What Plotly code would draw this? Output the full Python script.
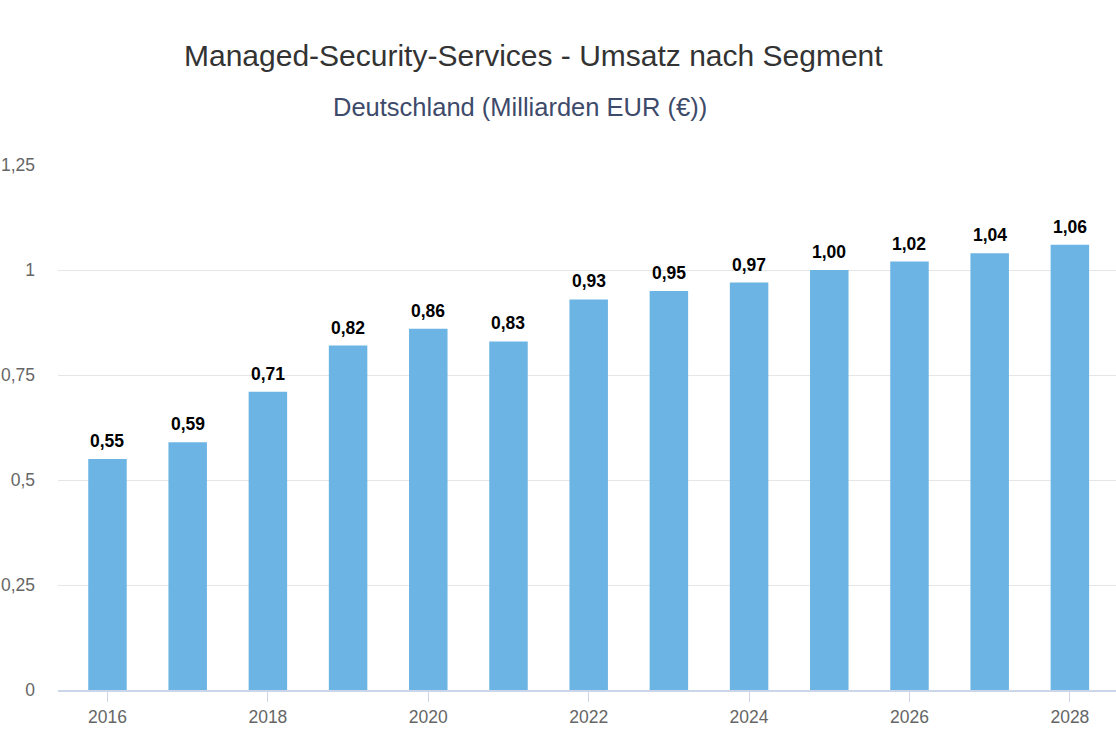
import plotly.graph_objects as go

years = [2016, 2017, 2018, 2019, 2020, 2021, 2022, 2023, 2024, 2025, 2026, 2027, 2028]
revenue = [0.55, 0.59, 0.71, 0.82, 0.86, 0.83, 0.93, 0.95, 0.97, 1.00, 1.02, 1.04, 1.06]
x_ticks = [2016, 2018, 2020, 2022, 2024, 2026, 2028]
y_ticks = [0, 0.25, 0.5, 0.75, 1, 1.25]
y_tick_labels = ["0", "0,25", "0,5", "0,75", "1", "1,25"]

title = "Managed-Security-Services - Umsatz nach Segment"
subtitle = "Deutschland (Milliarden EUR (€))"

FONT = "Liberation Sans, Arial, Helvetica, sans-serif"

fig = go.Figure()
fig.add_trace(go.Bar(
    x=years, y=revenue, width=0.48,
    marker=dict(color="#6cb4e4", line=dict(width=0)),
    hoverinfo="skip",
))

annotations = []
for x, v in zip(years, revenue):
    annotations.append(dict(
        x=x, y=v, xref="x", yref="y", text="<b>" + f"{v:.2f}".replace(".", ",") + "</b>",
        showarrow=False, yanchor="bottom", yshift=6,
        font=dict(family=FONT, size=17.5, color="#000000"),
    ))
annotations.append(dict(
    x=0.4495, y=1.2095, xref="paper", yref="paper", text=title, showarrow=False,
    xanchor="center", yanchor="middle",
    font=dict(family=FONT, size=30, color="#333333"),
))
annotations.append(dict(
    x=0.4367, y=1.1105, xref="paper", yref="paper", text=subtitle, showarrow=False,
    xanchor="center", yanchor="middle",
    font=dict(family=FONT, size=25.5, color="#3e4a6a"),
))

fig.update_layout(
    width=1116, height=748,
    margin=dict(l=58, r=0, t=165, b=58),
    paper_bgcolor="white", plot_bgcolor="white",
    showlegend=False,
    separators=",.",
    annotations=annotations,
    xaxis=dict(
        range=[2015.383, 2028.575],
        tickvals=x_ticks, ticktext=[str(t) for t in x_ticks],
        ticks="outside", ticklen=10, tickcolor="#ccd6eb", tickwidth=1,
        showline=True, linecolor="#ccd6eb", linewidth=1.5,
        showgrid=False, zeroline=False, automargin=False,
        tickfont=dict(family=FONT, size=17.5, color="#666666"),
    ),
    yaxis=dict(
        range=[0, 1.25],
        tickvals=y_ticks, ticktext=y_tick_labels,
        showgrid=True, gridcolor="#e6e6e6", gridwidth=1,
        zeroline=False, showline=False, automargin=False,
        ticklabelstandoff=22,
        tickfont=dict(family=FONT, size=17.5, color="#666666"),
    ),
)

fig.write_html("out.html", config={"displayModeBar": False},
               post_script="document.body.style.margin='0';")
